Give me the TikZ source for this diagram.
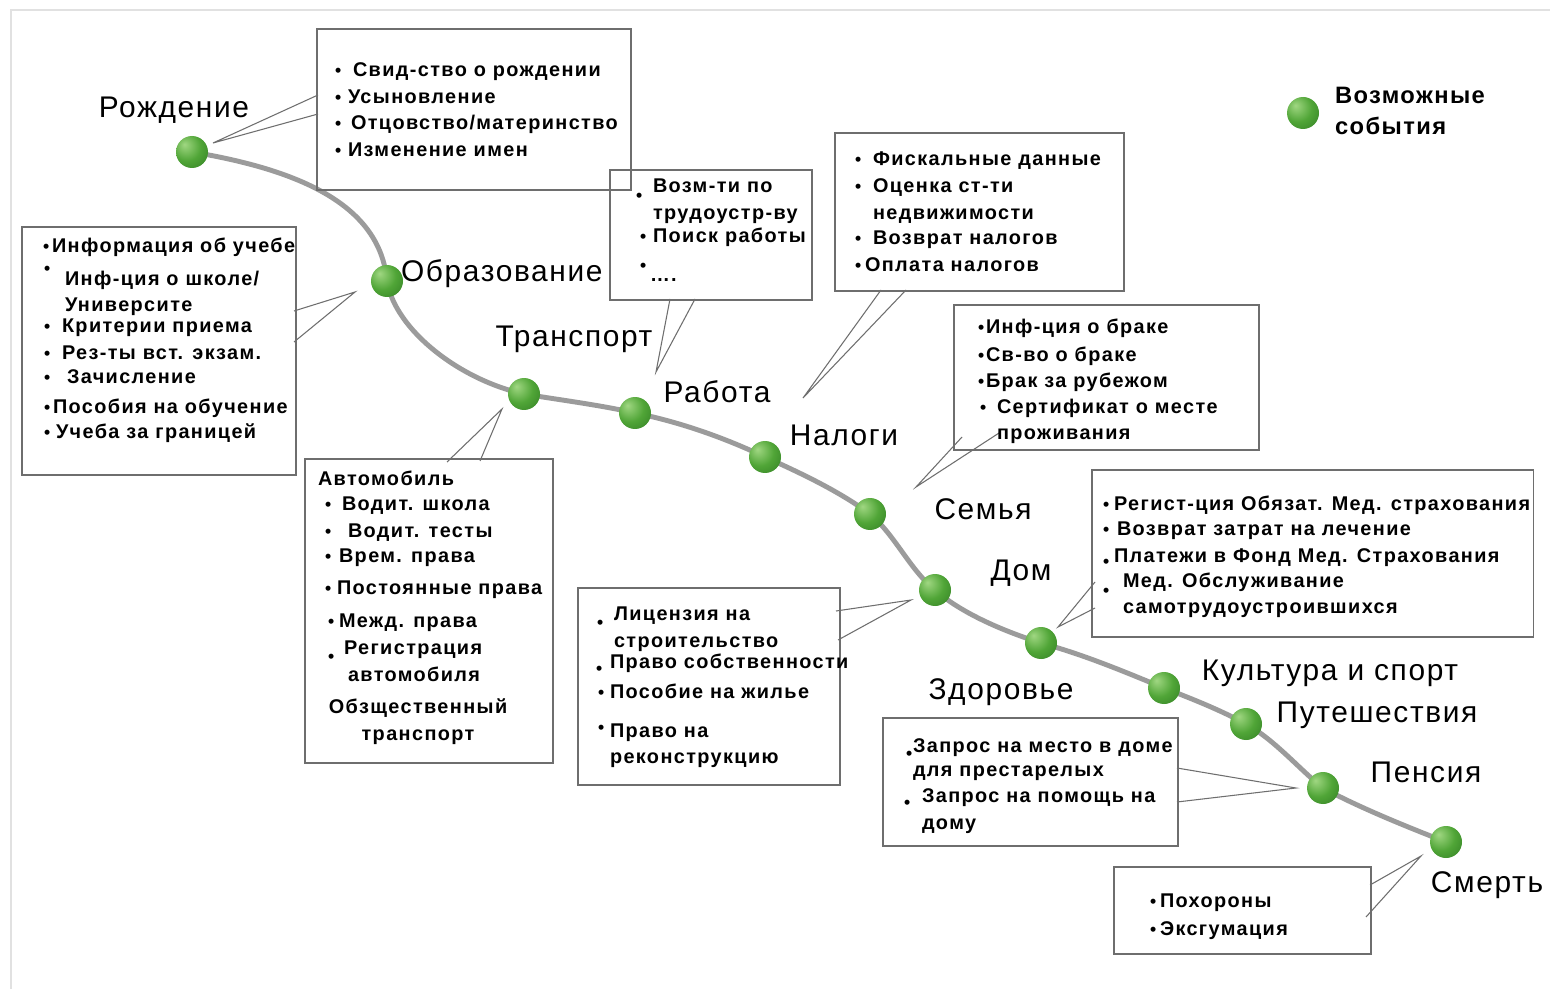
\documentclass[tikz,border=0pt]{standalone}
\usepackage{fontspec}
\setmainfont{Liberation Sans}
\newfontfamily\boxfont[LetterSpace=7]{Liberation Sans}
\newfontfamily\legfont[LetterSpace=6]{Liberation Sans}
\newfontfamily\lblfont[LetterSpace=5.5]{Liberation Sans}
\usetikzlibrary{fit}
\pgfdeclarelayer{bg}
\pgfsetlayers{bg,main}
\definecolor{gHi}{RGB}{160,215,130}
\definecolor{gMid}{RGB}{80,165,55}
\definecolor{gDark}{RGB}{40,115,30}
\definecolor{curvegray}{RGB}{155,155,155}
\definecolor{boxgray}{RGB}{110,110,110}
\definecolor{callgray}{RGB}{110,110,110}
\definecolor{framegray}{RGB}{225,225,225}
\pgfdeclareradialshading{gball}{\pgfpoint{-12bp}{12bp}}{color(0bp)=(gHi); color(22bp)=(gMid); color(50bp)=(gDark); color(70bp)=(gDark)}
\newcommand\tl[4]{\node[txt] (#1) at (#2,#3) {#4};}
\newcommand\itm[6]{\node[txt] (#1) at (#3,#4) {#6}; \node[bul] (#1b) at ({#2},{#4+(#5)}) {•};}
\begin{document}
\begin{tikzpicture}[x=0.02cm,y=-0.02cm,
  every node/.style={inner sep=0pt,outer sep=0pt},
  ball/.style={circle,minimum size=0.64cm,shading=gball},
  boxn/.style={draw=boxgray,line width=0.6pt,rectangle,inner sep=0pt},
  txt/.style={anchor=base west,font=\boxfont\bfseries\fontsize{11.3}{13}\selectfont},
  ctxt/.style={anchor=base,font=\boxfont\bfseries\fontsize{11.3}{13}\selectfont},
  bul/.style={anchor=base west,font=\boxfont\bfseries\fontsize{10}{12}\selectfont},
  lbl/.style={anchor=base,font=\lblfont\fontsize{17}{20}\selectfont},
  lblw/.style={anchor=base west,font=\lblfont\fontsize{17}{20}\selectfont},
  leg/.style={anchor=base west,font=\legfont\bfseries\fontsize{13.5}{16}\selectfont},
  curve/.style={draw=curvegray,line width=2.8pt,line cap=round},
  call/.style={draw=callgray,line width=0.6pt}]
\useasboundingbox (0,0) rectangle (1550,989);
\begin{pgfonlayer}{bg}
\fill[white] (0,0) rectangle (1550,989);
\draw[framegray,line width=1.2pt] (11,989) -- (11,10) -- (1550,10);
\end{pgfonlayer}

% ---- boxes
\node[boxn,fit={(317,29) (631,190)}] (bA) {};
\node[boxn,fit={(22,227) (296,475)}] (bB) {};
\node[boxn,fit={(610,170) (812,300)}] (bC) {};
\node[boxn,fit={(835,133) (1124,291)}] (bD) {};
\node[boxn,fit={(954,305) (1259,450)}] (bE) {};
\node[boxn,fit={(305,459) (553,763)}] (bF) {};
\node[boxn,fit={(578,588) (840,785)}] (bG) {};
\node[boxn,fit={(1092,470) (1533,637)}] (bH) {};
\node[boxn,fit={(883,718) (1178,846)}] (bI) {};
\node[boxn,fit={(1114,867) (1371,954)}] (bJ) {};

% ---- event balls
\node[ball] (e1) at (192,152) {};
\node[ball] (e2) at (387,281) {};
\node[ball] (e3) at (524,394) {};
\node[ball] (e4) at (635,413) {};
\node[ball] (e5) at (765,457) {};
\node[ball] (e6) at (870,514) {};
\node[ball] (e7) at (935,590) {};
\node[ball] (e8) at (1041,643) {};
\node[ball] (e9) at (1164,688) {};
\node[ball] (e10) at (1246,724) {};
\node[ball] (e11) at (1323,788) {};
\node[ball] (e12) at (1446,842) {};

% ---- life line (behind the balls)
\begin{pgfonlayer}{bg}
\path[curve] (e1.center) .. controls (300,170) and (380,205) .. (e2.center)
  .. controls (395,330) and (460,380) .. (e3.center)
  .. controls (560,400) and (600,405) .. (e4.center)
  .. controls (680,422) and (725,438) .. (e5.center)
  .. controls (805,475) and (840,492) .. (e6.center)
  .. controls (895,535) and (910,570) .. (e7.center)
  .. controls (960,612) and (1000,630) .. (e8.center)
  .. controls (1085,655) and (1125,672) .. (e9.center)
  .. controls (1195,700) and (1220,710) .. (e10.center)
  .. controls (1275,740) and (1300,770) .. (e11.center)
  .. controls (1360,808) and (1410,828) .. (e12.center);
\end{pgfonlayer}

% ---- legend
\node[ball] (lg) at (1303,113) {};
\node[leg] (lg1) at (1335,104) {Возможные};
\node[leg] (lg2) at (1335,135) {события};

% ---- labels
\node[lbl] (l1) at (174,118) {Рождение};
\node[lblw] (l2) at (401,282) {Образование};
\node[lbl] (l3) at (574,347) {Транспорт};
\node[lbl] (l4) at (717,402) {Работа};
\node[lbl] (l5) at (844,445) {Налоги};
\node[lbl] (l6) at (983,519) {Семья};
\node[lbl] (l7) at (1021,580) {Дом};
\node[lbl] (l8) at (1001,699) {Здоровье};
\node[lbl] (l9) at (1330,680) {Культура и спорт};
\node[lbl] (l10) at (1377,722) {Путешествия};
\node[lbl] (l11) at (1426,782) {Пенсия};
\node[lbl] (l12) at (1487,892) {Смерть};

% ---- callouts
\coordinate (tA) at (213,143); \coordinate (a1) at (318,95);  \coordinate (a2) at (318,114);
\coordinate (tB) at (355,292); \coordinate (c1) at (294,311); \coordinate (c2) at (294,342);
\coordinate (tC) at (656,372); \coordinate (d1) at (670,299); \coordinate (d2) at (695,299);
\coordinate (tD) at (803,398); \coordinate (f1) at (881,290); \coordinate (f2) at (906,290);
\coordinate (tE) at (916,487); \coordinate (g1) at (962,437); \coordinate (g2) at (999,433);
\coordinate (tF) at (502,409); \coordinate (h1) at (447,462); \coordinate (h2) at (480,461);
\coordinate (tG) at (911,600); \coordinate (k1) at (836,611); \coordinate (k2) at (838,640);
\coordinate (tH) at (1058,627); \coordinate (m1) at (1095,582); \coordinate (m2) at (1095,608);
\coordinate (tI) at (1296,788); \coordinate (n1) at (1177,768); \coordinate (n2) at (1177,802);
\coordinate (tJ) at (1421,856); \coordinate (p1) at (1370,885); \coordinate (p2) at (1366,917);
\foreach \t/\u/\v in {tA/a1/a2,tB/c1/c2,tC/d1/d2,tD/f1/f2,tE/g1/g2,tF/h1/h2,tG/k1/k2,tH/m1/m2,tI/n1/n2,tJ/p1/p2}
  {\draw[call] (\u) -- (\t) -- (\v);}

% ---- box A: birth
\itm{A1}{335}{353}{77}{0}{Свид-ство о рождении}
\itm{A2}{335}{348}{104}{0}{Усыновление}
\itm{A3}{335}{351}{130}{0}{Отцовство/материнство}
\itm{A4}{335}{348}{157}{0}{Изменение имен}

% ---- box B: education
\itm{B1}{43}{52}{253}{0}{Информация об учебе}
\itm{B2}{44}{65}{286}{-11}{Инф-ция о школе/}
\tl{B3}{65}{312}{Университе}
\itm{B4}{44}{62}{333}{0}{Критерии приема}
\itm{B5}{44}{62}{359}{0}{Рез-ты вст. экзам.}
\itm{B6}{44}{67}{383}{0}{Зачисление}
\itm{B7}{44}{53}{413}{0}{Пособия на обучение}
\itm{B8}{44}{56}{438}{0}{Учеба за границей}

% ---- box C: work
\itm{C1}{636}{653}{193}{9}{Возм-ти по}
\tl{C2}{653}{220}{трудоустр-ву}
\itm{C3}{640}{653}{243}{0}{Поиск работы}
\itm{C4}{640}{650}{282}{-10}{….}

% ---- box D: taxes
\itm{D1}{855}{873}{166}{0}{Фискальные данные}
\itm{D2}{855}{873}{193}{0}{Оценка ст-ти}
\tl{D3}{873}{220}{недвижимости}
\itm{D4}{855}{873}{245}{0}{Возврат налогов}
\itm{D5}{855}{865}{272}{0}{Оплата налогов}

% ---- box E: family
\itm{E1}{978}{986}{334}{0}{Инф-ция о браке}
\itm{E2}{978}{986}{361}{0}{Св-во о браке}
\itm{E3}{978}{986}{387}{0}{Брак за рубежом}
\itm{E4}{980}{997}{413}{0}{Сертификат о месте}
\tl{E5}{997}{439}{проживания}

% ---- box F: transport
\tl{F1}{318}{485}{Автомобиль}
\itm{F2}{325}{342}{510}{0}{Водит. школа}
\itm{F3}{325}{348}{537}{0}{Водит. тесты}
\itm{F4}{325}{339}{562}{0}{Врем. права}
\itm{F5}{325}{337}{594}{0}{Постоянные права}
\itm{F6}{328}{339}{627}{0}{Межд. права}
\itm{F7}{328}{344}{654}{8}{Регистрация}
\tl{F8}{348}{681}{автомобиля}
\node[ctxt] (F9) at (418,713) {Обзщественный};
\node[ctxt] (F10) at (418,740) {транспорт};

% ---- box G: home
\itm{G1}{597}{614}{620}{8}{Лицензия на}
\tl{G2}{614}{647}{строительство}
\itm{G3}{596}{610}{668}{6}{Право собственности}
\itm{G4}{598}{610}{698}{0}{Пособие на жилье}
\itm{G5}{598}{610}{737}{-4}{Право на}
\tl{G6}{610}{763}{реконструкцию}

% ---- box H: health
\itm{H1}{1103}{1114}{510}{0}{Регист-ция Обязат. Мед. страхования}
\itm{H2}{1103}{1117}{535}{0}{Возврат затрат на лечение}
\itm{H3}{1103}{1114}{562}{5}{Платежи в Фонд Мед. Страхования}
\itm{H4}{1103}{1123}{587}{9}{Мед. Обслуживание}
\tl{H5}{1123}{613}{самотрудоустроившихся}

% ---- box I: pension
\itm{I1}{906}{913}{752}{7}{Запрос на место в доме}
\tl{I2}{913}{776}{для престарелых}
\itm{I3}{904}{922}{802}{6}{Запрос на помощь на}
\tl{I4}{922}{829}{дому}

% ---- box J: death
\itm{J1}{1150}{1160}{907}{0}{Похороны}
\itm{J2}{1150}{1160}{935}{0}{Эксгумация}
\end{tikzpicture}
\end{document}
